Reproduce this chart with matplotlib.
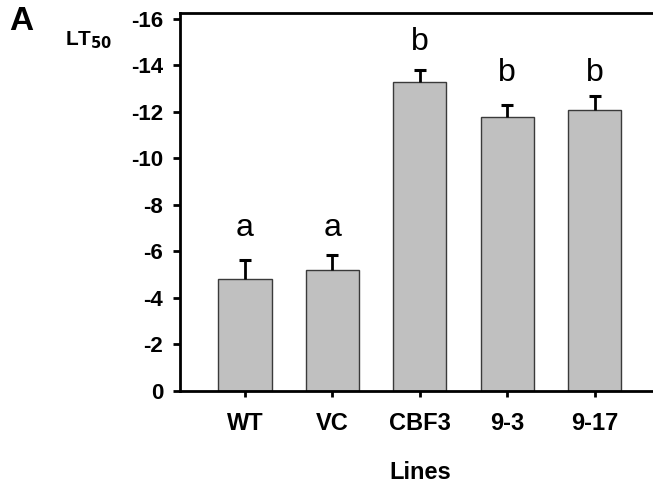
import numpy as np
import matplotlib
matplotlib.use("Agg")
import matplotlib.pyplot as plt

plt.rcParams['font.family'] = ['Liberation Sans', 'DejaVu Sans']

lines = ['WT', 'VC', 'CBF3', '9-3', '9-17']
lt50 = [-4.8, -5.2, -13.28, -11.76, -12.06]
err = [0.84, 0.63, 0.50, 0.52, 0.61]
letters = ['a', 'a', 'b', 'b', 'b']
letter_y = [-7.0, -7.0, -15.0, -13.65, -13.65]
yticks = [0, -2, -4, -6, -8, -10, -12, -14, -16]

fig = plt.figure(figsize=(6.53, 4.88), dpi=100)
# axes runs a bit past the right edge of the figure like the original
ax = fig.add_axes([180/653, 1-391/488, 479.6/653, (391-13)/488])

x = np.arange(len(lines))
vals = np.array(lt50)
errs = np.array(err)
ax.bar(x, vals, width=0.61, color='#c0c0c0', edgecolor='#3a3a3a', linewidth=1.0, zorder=2)
ax.vlines(x, vals, vals - errs, color='black', linewidth=2.0, zorder=3)
ax.plot(x, vals - errs, linestyle='none', marker='_', markersize=9, mew=2.2, color='black', zorder=3)

for xi, l, ly in zip(x, letters, letter_y):
    ax.text(xi, ly, l, ha='center', va='center', fontsize=23)

ax.set_xlim(-0.744, 4.744)
ax.set_ylim(0, -16.24)
ax.set_yticks(yticks)
ax.set_yticklabels([str(t) for t in yticks], fontsize=16, fontweight='bold')
ax.set_xticks(x)
ax.set_xticklabels(lines, fontsize=17, fontweight='bold')

for s in ['left', 'bottom', 'top', 'right']:
    ax.spines[s].set_linewidth(2.0)
ax.tick_params(axis='y', direction='out', length=5, width=2.0, pad=7)
ax.tick_params(axis='x', direction='out', length=4, width=2.0, pad=11)

ax.set_xlabel('Lines', fontsize=17, fontweight='bold', labelpad=19)
fig.text(65/653, 1-40/488, r'LT$_{\mathbf{50}}$', fontsize=15, fontweight='bold', va='center', ha='left')
fig.text(9/653, 1-21/488, 'A', fontsize=24, fontweight='bold', va='center', ha='left')

fig.savefig('out.png', dpi=100)
